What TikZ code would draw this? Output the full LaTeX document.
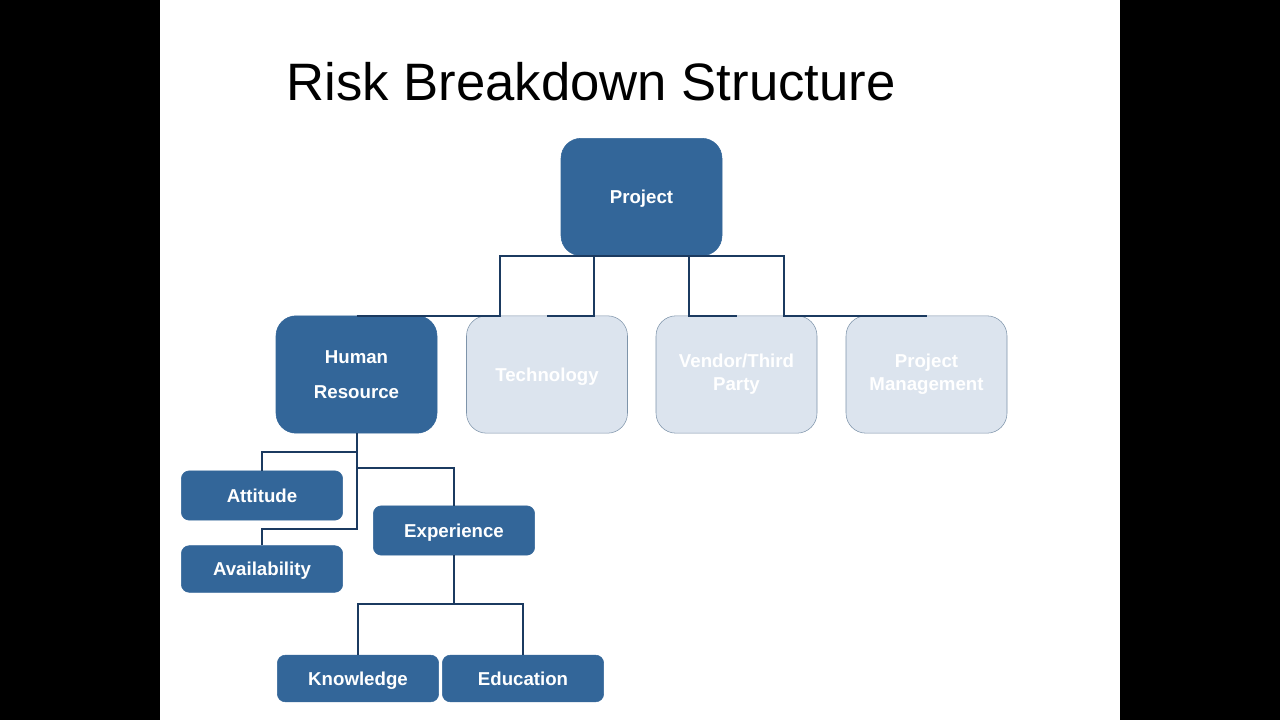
\documentclass[tikz,border=0pt]{standalone}
\usepackage{fontspec}
\setmainfont{Liberation Sans}
\usepackage{xcolor}
\usepackage{tikz}
\usetikzlibrary{positioning}

\definecolor{rbsblue}{HTML}{336699}
\definecolor{rbsline}{HTML}{1B3A60}
\definecolor{rbspale}{HTML}{DCE4EE}
\definecolor{rbsedge}{HTML}{7E94AA}

\begin{document}
\begin{tikzpicture}[
  x=0.75pt, y=-0.75pt,
  every node/.style={font=\fontsize{14}{17}\selectfont\bfseries, align=center, text=white},
  bigbox/.style={draw=#1, fill=#1, rounded corners=15pt, minimum width=120.75pt, minimum height=88pt},
  bigbox/.default={rbsblue},
  fadebox/.style={draw=rbsedge, fill=rbspale, rounded corners=15pt, minimum width=120.75pt, minimum height=88pt, text=white},
  smallbox/.style={draw=rbsblue, fill=rbsblue, rounded corners=6pt, minimum width=121pt, minimum height=#1, text depth=0pt},
  smallbox/.default={37pt},
  link/.style={draw=rbsline, line width=1.5pt},
]
% Slide and frame
\fill[black] (0,0) rectangle (1280,720);
\fill[white] (160,0) rectangle (1120,720);
\useasboundingbox (0,0) rectangle (1280,720);

% Title
\node[font=\fontsize{39.5}{47}\selectfont, text=black, anchor=base west] (title) at (282,101) {Risk Breakdown Structure};

% Top level
\node[bigbox, text depth=0pt] (proj) at (641.5,197) {Project};

% Second level
\node[bigbox] (hr) at (356.5,374.5) {Human\\[9pt]Resource};
\node[fadebox, text depth=0pt] (tech) at (547,374.5) {Technology};
\node[fadebox] (vendor) at (736.5,374.5) {Vendor/Third\\Party};
\node[fadebox] (pm) at (926.5,374.5) {Project\\Management};

% Human resource branch
\node[smallbox] (att) at (262,495.5) {Attitude};
\node[smallbox=35pt] (avail) at (262,569) {Availability};
\node[smallbox] (exp) at (454,530.5) {Experience};
\node[smallbox=35pt] (know) at (358,678.5) {Knowledge};
\node[smallbox=35pt] (edu) at (523,678.5) {Education};

% Connectors
\draw[link] (hr.north) -| ([xshift=-106.5pt]proj.south) -- (proj.south);
\draw[link] (tech.north) -| ([xshift=-35.6pt]proj.south) -- (proj.south);
\draw[link] (vendor.north) -| ([xshift=35.6pt]proj.south) -- (proj.south);
\draw[link] (pm.north) -| ([xshift=106.5pt]proj.south) -- (proj.south);

\draw[link] (att.north) |- ([yshift=-14.25pt]hr.south) -- (hr.south);
\draw[link] (avail.north) |- ([yshift=-72pt]hr.south) -- (hr.south);
\draw[link] (exp.north) |- ([yshift=-26.25pt]hr.south) -- (hr.south);

\draw[link] (know.north) |- ([yshift=-36.75pt]exp.south) -- (exp.south);
\draw[link] (edu.north) |- ([yshift=-36.75pt]exp.south) -- (exp.south);
\end{tikzpicture}
\end{document}
